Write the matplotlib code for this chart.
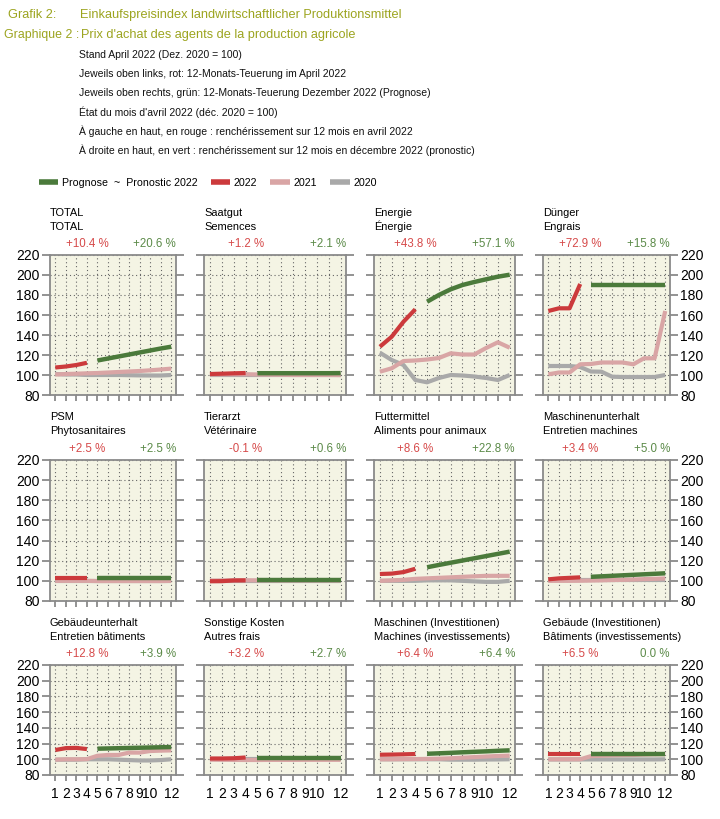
import matplotlib.pyplot as plt
from matplotlib.lines import Line2D

plt.rcParams["font.family"] = ["Liberation Sans", "DejaVu Sans"]

# -------------------------
# Data (Dez. 2020 = 100)
# -------------------------

months = list(range(1, 13))
months_2022 = [1, 2, 3, 4]
months_prog = [5, 6, 7, 8, 9, 10, 11, 12]

names_de = ["TOTAL", "Saatgut", "Energie", "Dünger",
            "PSM", "Tierarzt", "Futtermittel", "Maschinenunterhalt",
            "Gebäudeunterhalt", "Sonstige Kosten", "Maschinen (Investitionen)",
            "Gebäude (Investitionen)"]
names_fr = ["TOTAL", "Semences", "Énergie", "Engrais",
            "Phytosanitaires", "Vétérinaire", "Aliments pour animaux",
            "Entretien machines", "Entretien bâtiments", "Autres frais",
            "Machines (investissements)", "Bâtiments (investissements)"]

pct_april = ["+10.4 %", "+1.2 %", "+43.8 %", "+72.9 %",
             "+2.5 %", "-0.1 %", "+8.6 %", "+3.4 %",
             "+12.8 %", "+3.2 %", "+6.4 %", "+6.5 %"]
pct_dec = ["+20.6 %", "+2.1 %", "+57.1 %", "+15.8 %",
           "+2.5 %", "+0.6 %", "+22.8 %", "+5.0 %",
           "+3.9 %", "+2.7 %", "+6.4 %", "0.0 %"]

idx_2020 = [
    [101, 100.5, 100.5, 100, 100, 100, 100, 99.8, 99.6, 99.5, 99.5, 100],
    [100, 100, 100, 100, 100, 100, 100, 100, 100, 100, 100, 100],
    [122.3, 115, 110, 95, 92.7, 97, 100, 99.5, 98.5, 97, 95, 100],
    [109, 109, 109, 108, 103.5, 103.3, 98.3, 98, 98, 98, 98, 100],
    [100, 100, 100, 100, 100, 100, 100, 100, 100, 100, 100, 100],
    [100, 100, 100, 100, 100, 100, 100, 100, 100, 100, 100, 100],
    [100, 100, 100, 100, 100.5, 100.5, 100.5, 100, 99.5, 99, 99, 100],
    [100.5, 100.5, 100.5, 100.5, 100.5, 100.5, 100.5, 100.5, 100.5, 100.5, 100.5, 100.5],
    [99.5, 99.5, 99.5, 100, 100, 100, 99.5, 99, 98.5, 98.5, 99, 100],
    [100, 100, 100, 100, 100, 100, 100, 100, 100, 100, 100, 100],
    [100, 100, 100, 100, 100, 100, 99.5, 99.5, 99.5, 99.7, 99.8, 100],
    [99.8, 99.8, 99.8, 99.8, 99.8, 99.8, 99.8, 99.8, 99.8, 99.8, 99.8, 100],
]

idx_2021 = [
    [100.5, 101, 101.3, 101.7, 102, 102.5, 103, 103.5, 104, 104.7, 105.5, 106.4],
    [100.5, 100.6, 100.7, 100.8, 100.5, 100.3, 100.2, 100, 100, 100, 100, 99.9],
    [103.3, 106.7, 114, 114.5, 115.5, 117, 121.7, 120.5, 120.5, 127, 132.7, 127.3],
    [100.7, 102.5, 102.5, 110.7, 111, 112.5, 112.5, 112.5, 110.7, 116.7, 116.7, 164],
    [100, 100, 100, 100, 99.8, 99.8, 99.8, 99.8, 99.8, 99.8, 99.8, 100],
    [100.3, 100.4, 100.5, 100.6, 100.5, 100.5, 100.4, 100.4, 100.4, 100.4, 100.4, 100.4],
    [100, 100.5, 101, 102, 102.5, 103, 103.5, 104, 104.5, 105, 105, 105],
    [100, 100, 100, 100.1, 100.3, 100.5, 100.8, 101, 101.3, 101.7, 102, 102.4],
    [99.5, 100, 100, 100.2, 104.5, 105.5, 105.5, 108.5, 108.5, 110.5, 111, 111.3],
    [99.5, 99.3, 99.2, 99.1, 99.1, 99.2, 99.2, 99.2, 99.3, 99.3, 99.3, 99.3],
    [100, 100, 100.2, 100.3, 100.5, 100.8, 101.3, 102, 102.8, 103.5, 104.2, 104.7],
    [100, 100, 100, 100, 104, 104.5, 105, 105.3, 105.5, 106, 106.3, 106.5],
]

idx_2022 = [
    [107.5, 108.5, 110, 112.2],
    [101, 101.3, 101.7, 102],
    [128.3, 138.3, 153.3, 165.7],
    [164, 166.7, 166.7, 191],
    [102.5, 102.5, 102.5, 102.5],
    [99.6, 99.7, 100.4, 100.5],
    [106.8, 107.2, 108.7, 112],
    [101.5, 102.5, 103, 103.5],
    [111.8, 114.2, 114.5, 113],
    [101, 101, 101.3, 102.3],
    [105.8, 106, 106.3, 106.7],
    [106.5, 106.5, 106.5, 106.5],
]

idx_prog = [
    [114.5, 116.5, 118.5, 120.5, 122.5, 124.5, 126.5, 128.3],
    [101.8, 101.8, 101.8, 101.8, 101.8, 101.8, 101.8, 101.9],
    [173.3, 180, 185.7, 190, 193, 195.7, 198.3, 200.3],
    [190, 190, 190, 190, 190, 190, 190, 190],
    [102.5, 102.5, 102.5, 102.5, 102.5, 102.5, 102.5, 102.5],
    [101, 101, 101, 101, 101, 101, 101, 101],
    [113.5, 115.8, 118, 120.2, 122.4, 124.6, 126.8, 129],
    [104, 104.5, 105, 105.5, 106, 106.5, 107, 107.5],
    [113.5, 113.8, 114.1, 114.4, 114.7, 115, 115.3, 115.6],
    [102, 102, 102, 102, 102, 102, 102, 102],
    [107, 107.6, 108.2, 108.9, 109.5, 110.1, 110.8, 111.4],
    [106.5, 106.5, 106.5, 106.5, 106.5, 106.5, 106.5, 106.5],
]

# -------------------------
# Style
# -------------------------

W, H = 720, 819
C_TITLE = "#9ca41f"
C_PROG = "#4b7a3b"
C_2022 = "#cc3a3c"
C_2021 = "#d9a5a5"
C_2020 = "#a9a9a9"
C_RED_TXT = "#d64a4a"
C_GRN_TXT = "#5b8a48"
C_FRAME = "#8a8a8a"
BG = "#f4f4e4"

cols = [(50, 176), (204, 346), (374, 515), (543, 670)]
rows = [(255, 395), (460, 601), (665, 775)]

fig = plt.figure(figsize=(W / 100, H / 100), dpi=100)


def fy(y):
    return 1 - y / H


# -------------------------
# Header
# -------------------------

fig.text(8 / W, fy(15), "Grafik 2:", color=C_TITLE, fontsize=9.2, va="center")
fig.text(80 / W, fy(15), "Einkaufspreisindex landwirtschaftlicher Produktionsmittel",
         color=C_TITLE, fontsize=9.2, va="center")
fig.text(79 / W, fy(35), "Graphique 2 :", color=C_TITLE, fontsize=8.9,
         va="center", ha="right")
fig.text(81 / W, fy(35), "Prix d'achat des agents de la production agricole",
         color=C_TITLE, fontsize=9.2, va="center")

notes = [
    "Stand April 2022 (Dez. 2020 = 100)",
    "Jeweils oben links, rot: 12-Monats-Teuerung im April 2022",
    "Jeweils oben rechts, grün: 12-Monats-Teuerung Dezember 2022 (Prognose)",
    "État du mois d'avril 2022 (déc. 2020 = 100)",
    "À gauche en haut, en rouge : renchérissement sur 12 mois en avril 2022",
    "À droite en haut, en vert : renchérissement sur 12 mois en décembre 2022 (pronostic)",
]
for i, line in enumerate(notes):
    fig.text(79 / W, fy(55 + i * 19), line, fontsize=7.5, va="center", color="#111111")

# -------------------------
# Legend
# -------------------------

handles = [
    Line2D([], [], color=C_PROG, lw=4, solid_capstyle="butt"),
    Line2D([], [], color=C_2022, lw=4, solid_capstyle="butt"),
    Line2D([], [], color=C_2021, lw=4, solid_capstyle="butt"),
    Line2D([], [], color=C_2020, lw=4, solid_capstyle="butt"),
]
labels = ["Prognose  ~  Pronostic 2022", "2022", "2021", "2020"]
fig.legend(handles, labels, loc="center left", bbox_to_anchor=(29 / W, fy(183)),
           ncol=4, frameon=False, handlelength=1.8, handletextpad=0.35,
           columnspacing=1.25, prop={"size": 7.7})

# -------------------------
# Panels
# -------------------------

px2pt = 72 / 100

for i in range(12):
    r, c = divmod(i, 4)
    x0, x1 = cols[c]
    y0, y1 = rows[r]
    ax = fig.add_axes([x0 / W, fy(y1), (x1 - x0) / W, (y1 - y0) / H])
    ax.set_facecolor(BG)

    ax.plot(months, idx_2020[i], color=C_2020, lw=3, solid_capstyle="butt", zorder=3)
    ax.plot(months, idx_2021[i], color=C_2021, lw=3, solid_capstyle="butt", zorder=4)
    ax.plot(months_2022, idx_2022[i], color=C_2022, lw=3, solid_capstyle="butt", zorder=5)
    ax.plot(months_prog, idx_prog[i], color=C_PROG, lw=3.2, solid_capstyle="butt", zorder=6)

    ax.set_xlim(0.5, 12.45)
    ax.set_ylim(80, 220)
    ax.set_yticks(range(80, 221, 20))
    ax.set_xticks(months)
    ax.set_xticklabels([str(m) if m != 11 else "" for m in months])

    ax.grid(True, color="#666666", linestyle=(0, (1, 2.5)), linewidth=0.8)
    ax.set_axisbelow(True)
    for s in ax.spines.values():
        s.set_color(C_FRAME)
        s.set_linewidth(1.3)

    ax.tick_params(axis="y", direction="out", length=5.5, width=1.3, color=C_FRAME,
                   left=True, right=True, labelleft=(c == 0), labelright=(c == 3),
                   labelsize=10, pad=2)
    ax.tick_params(axis="x", direction="out", length=4.5, width=1.3, color=C_FRAME,
                   labelbottom=(r == 2), labelsize=10, pad=4)

    ax.annotate(names_de[i], xy=(0, 1), xycoords="axes fraction",
                xytext=(0, 42.5 * px2pt), textcoords="offset points",
                ha="left", va="center", fontsize=7.9)
    ax.annotate(names_fr[i], xy=(0, 1), xycoords="axes fraction",
                xytext=(0, 28.5 * px2pt), textcoords="offset points",
                ha="left", va="center", fontsize=7.9)
    ax.annotate(pct_april[i], xy=(4, 1), xycoords=("data", "axes fraction"),
                xytext=(0, 11 * px2pt), textcoords="offset points",
                ha="center", va="center", fontsize=8.3, color=C_RED_TXT)
    ax.annotate(pct_dec[i], xy=(1, 1), xycoords="axes fraction",
                xytext=(0, 11 * px2pt), textcoords="offset points",
                ha="right", va="center", fontsize=8.3, color=C_GRN_TXT)

fig.savefig("out.png", dpi=100)
